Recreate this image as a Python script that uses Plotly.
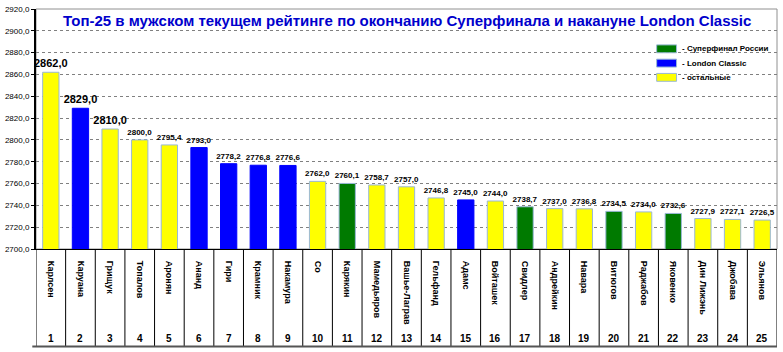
import plotly.graph_objects as go

names = ["Карлсен", "Каруана", "Грищук", "Топалов", "Аронян", "Ананд", "Гири", "Крамник",
         "Накамура", "Со", "Карякин", "Мамедьяров", "Вашье-Лаграв", "Гельфанд", "Адамс",
         "Войташек", "Свидлер", "Андрейкин", "Навара", "Витюгов", "Раджабов", "Яковенко",
         "Дин Лижэнь", "Джобава", "Эльянов"]
ranks = list(range(1, 26))
ratings = [2862.0, 2829.0, 2810.0, 2800.0, 2795.4, 2793.0, 2778.2, 2776.8, 2776.6, 2762.0,
           2760.1, 2758.7, 2757.0, 2746.8, 2745.0, 2744.0, 2738.7, 2737.0, 2736.8, 2734.5,
           2734.0, 2732.6, 2727.9, 2727.1, 2726.5]
groups = ["o", "L", "o", "o", "o", "L", "L", "L", "L", "o", "S", "o", "o", "o", "L",
          "o", "S", "o", "o", "S", "o", "S", "o", "o", "o"]
legend_labels = {"S": "- Суперфинал России", "L": "- London Classic", "o": "- остальные"}
group_colors = {"S": "#007a00", "L": "#0000ff", "o": "#ffff00"}
group_lines = {"S": "#9ab8d6", "L": "#0000ff", "o": "#9ab8d6"}

FONT = "Liberation Sans, Arial, sans-serif"
W, H = 783, 352
ML, MR, MT, MB = 32, 6, 5, 103
ph = H - MT - MB

fig = go.Figure()
x = list(range(len(names)))
fig.add_trace(go.Bar(
    x=x, y=ratings,
    marker=dict(color=[group_colors[g] for g in groups],
                line=dict(color=[group_lines[g] for g in groups], width=1)),
    width=0.55,
    text=[f"{v:.1f}".replace(".", ",") for v in ratings],
    textposition="outside",
    constraintext="none",
    textfont=dict(family=FONT, color="black",
                  size=[11 if i < 3 else 8 for i in range(len(ratings))],
                  weight="bold"),
    cliponaxis=False,
    showlegend=False,
))

def py(px):
    return (H - MB - px) / ph

shapes = []
annotations = []
# divider lines in category table
for k in range(len(names) + 1):
    shapes.append(dict(type="line", xref="x", yref="paper", x0=k - 0.5, x1=k - 0.5,
                       y0=0, y1=py(348), line=dict(color="black", width=1)))
shapes.append(dict(type="line", xref="paper", yref="paper", x0=-0.005, x1=1,
                   y0=py(348), y1=py(348), line=dict(color="#555555", width=2)))
# plot frame (top / right)
shapes.append(dict(type="rect", xref="paper", yref="paper", x0=0, x1=1, y0=0, y1=1,
                   line=dict(color="#909090", width=1), layer="below"))
# rank numbers
for i, r in enumerate(ranks):
    annotations.append(dict(x=i, y=py(340), xref="x", yref="paper", text=str(r),
                            showarrow=False, yanchor="middle",
                            font=dict(family=FONT, size=10, color="black", weight="bold")))
# legend
order = ["S", "L", "o"]
for j, g in enumerate(order):
    yc = 45.5 + j * 14.5
    shapes.append(dict(type="rect", xref="paper", yref="paper",
                       x0=(656 - ML) / (W - ML - MR), x1=(676 - ML) / (W - ML - MR),
                       y0=py(yc + 4), y1=py(yc - 4),
                       fillcolor=group_colors[g], line=dict(color="#9ab8d6", width=1)))
    annotations.append(dict(x=(679 - ML) / (W - ML - MR), y=py(yc), xref="paper", yref="paper",
                            text=legend_labels[g], showarrow=False, xanchor="left",
                            yanchor="middle",
                            font=dict(family=FONT, size=8, color="black", weight="bold")))
# title
annotations.append(dict(x=0.5, y=py(17), xref="paper", yref="paper",
                        text="Топ-25 в мужском текущем рейтинге по окончанию Суперфинала и накануне London Classic",
                        showarrow=False, xanchor="center", yanchor="middle",
                        font=dict(family=FONT, size=15, color="#0000cc", weight="bold")))

fig.update_layout(
    width=W, height=H,
    margin=dict(l=ML, r=MR, t=MT, b=MB, pad=0),
    paper_bgcolor="white", plot_bgcolor="white",
    separators=", ",
    shapes=shapes, annotations=annotations,
    xaxis=dict(tickmode="array", tickvals=x, ticktext=names, tickangle=90,
               range=[-0.5, len(names) - 0.5], showgrid=False, ticks="",
               ticklabelstandoff=9,
               tickfont=dict(family=FONT, size=9, color="black", weight="bold"),
               showline=True, linecolor="black", linewidth=1, zeroline=False),
    yaxis=dict(range=[2700, 2920], dtick=20, tickformat=".1f", showgrid=True,
               gridcolor="#808080", griddash="dot", gridwidth=1,
               ticks="outside", ticklen=3, tickcolor="black",
               tickfont=dict(family=FONT, size=8, color="black"),
               showline=True, linecolor="black", linewidth=2, zeroline=False),
    font=dict(family=FONT),
)

fig.write_html("out.html")
